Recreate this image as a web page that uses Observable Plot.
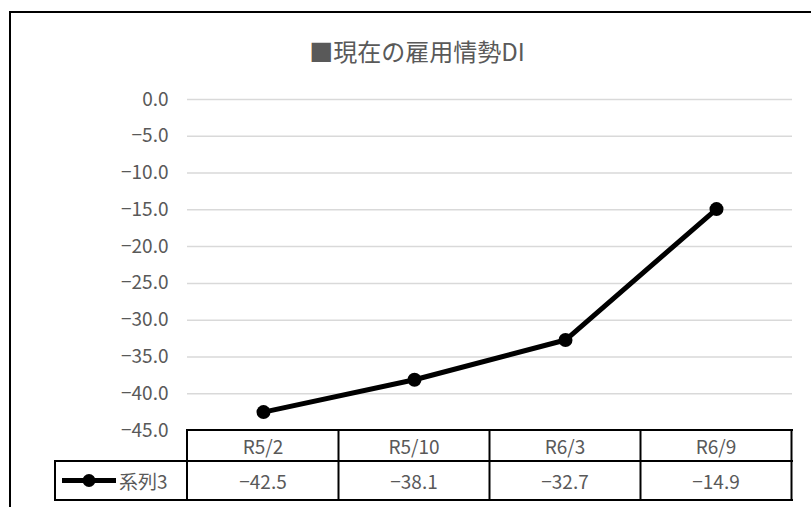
<!DOCTYPE html>
<html>
<head>
<meta charset="utf-8">
<script src="https://cdn.jsdelivr.net/npm/d3@7"></script>
<script src="https://cdn.jsdelivr.net/npm/@observablehq/plot@0.6"></script>
<style>
  body { margin: 0; background: #fff; }
  #chart { position: relative; width: 811px; height: 507px; overflow: hidden; font-family: "Noto Sans CJK JP", sans-serif; }
  #frame { position: absolute; left: 9px; top: 11px; width: 830px; height: 530px; border: 2px solid #000; box-sizing: border-box; }
  #title { position: absolute; left: 0; width: 834px; top: 34px; text-align: center; font-size: 24px; line-height: 34px; color: #595959; }
  #plot { position: absolute; left: 0; top: 0; }
</style>
</head>
<body>
<div id="chart">
  <div id="frame"></div>
  <div id="title">■現在の雇用情勢DI</div>
  <div id="plot"></div>
</div>
<script>
// Survey periods and the employment-situation DI for each
const categories = ["R5/2", "R5/10", "R6/3", "R6/9"];
const values = [-42.5, -38.1, -32.7, -14.9];
const seriesName = "系列3";
const yTicks = [0, -5, -10, -15, -20, -25, -30, -35, -40, -45];

const rows = categories.map((period, i) => ({period, value: values[i]}));
const fmt = d3.format(".1f");

const INK = "#595959";
const LINE = "#000";
const FONT_SIZE = 19;

// Data table drawn under the plot area, aligned to the x scale's bands
function dataTable(index, scales, channels, dims) {
  const x = scales.x;
  const step = x(categories[1]) - x(categories[0]);
  const left = dims.marginLeft;
  const right = dims.width - dims.marginRight;
  const top = dims.height - dims.marginBottom;
  const mid = top + 31;
  const bottom = top + 70;
  const keyLeft = 55;

  const g = d3.create("svg:g");
  const rules = g.append("g").attr("stroke", LINE).attr("stroke-width", 2).attr("fill", "none");
  const hline = (y, x1, x2) => rules.append("line").attr("x1", x1).attr("x2", x2).attr("y1", y).attr("y2", y);
  const vline = (xx, y1, y2) => rules.append("line").attr("x1", xx).attr("x2", xx).attr("y1", y1).attr("y2", y2);

  hline(top, left - 1, right + 1);
  hline(mid, keyLeft - 1, right + 1);
  hline(bottom, keyLeft - 1, right + 1);
  vline(left, top, bottom);
  vline(keyLeft, mid, bottom);
  categories.forEach(c => vline(x(c) + step / 2, top, bottom));

  const text = g.append("g")
    .attr("fill", INK)
    .attr("font-size", FONT_SIZE)
    .attr("text-anchor", "middle")
    .attr("dominant-baseline", "central");
  rows.forEach(d => {
    text.append("text").attr("x", x(d.period)).attr("y", (top + mid) / 2).text(d.period);
    text.append("text").attr("x", x(d.period)).attr("y", (mid + bottom) / 2).text(fmt(d.value));
  });

  // legend key: line with a marker, then the series name
  const ky = (mid + bottom) / 2;
  const key = g.append("g");
  key.append("line").attr("x1", 62).attr("x2", 116).attr("y1", ky).attr("y2", ky)
    .attr("stroke", LINE).attr("stroke-width", 5);
  key.append("circle").attr("cx", 89).attr("cy", ky).attr("r", 6.5).attr("fill", LINE);
  key.append("text").attr("x", 119).attr("y", ky).attr("fill", INK).attr("font-size", FONT_SIZE)
    .attr("text-anchor", "start").attr("dominant-baseline", "central").text(seriesName);

  return g.node();
}

const chart = Plot.plot({
  width: 811,
  height: 507,
  marginLeft: 187,
  marginRight: 19,
  marginTop: 99,
  marginBottom: 77,
  style: {background: "transparent", color: INK, fontFamily: "'Noto Sans CJK JP', sans-serif", overflow: "visible"},
  x: {type: "point", domain: categories, padding: 0.5, axis: null},
  y: {domain: [-45, 0], axis: null},
  marks: [
    Plot.gridY(yTicks.filter(t => t > -45), {stroke: "#d9d9d9", strokeOpacity: 1, strokeWidth: 1.5}),
    Plot.axisY({ticks: yTicks, tickFormat: fmt, tickSize: 0, tickPadding: 19, fontSize: FONT_SIZE, label: null}),
    Plot.line(rows, {x: "period", y: "value", stroke: LINE, strokeWidth: 5, strokeLinejoin: "round"}),
    Plot.dot(rows, {x: "period", y: "value", r: 7, fill: LINE}),
    dataTable
  ]
});

document.getElementById("plot").append(chart);
</script>
</body>
</html>
